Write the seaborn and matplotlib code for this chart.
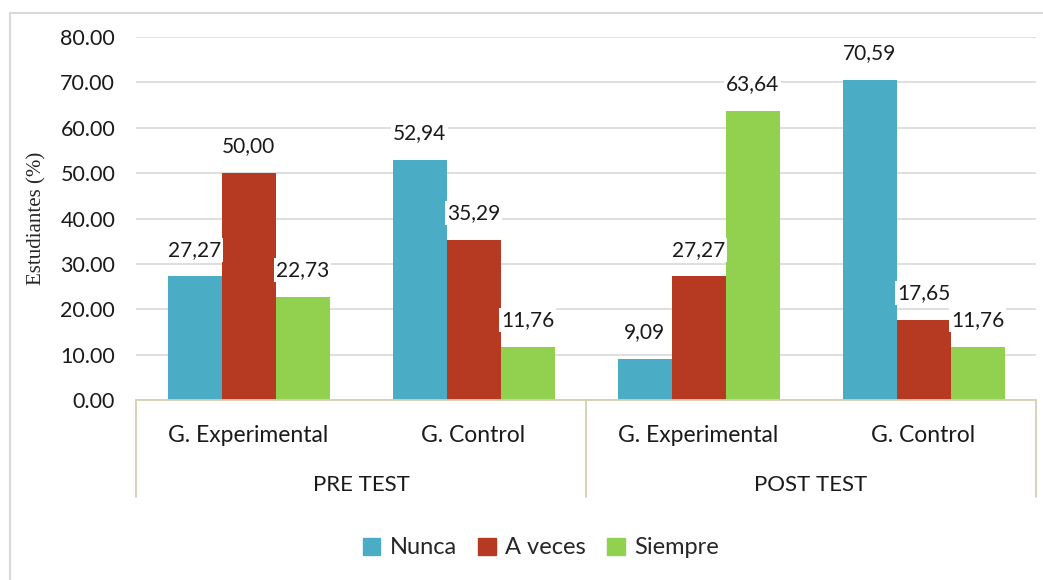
import pandas as pd
import matplotlib.pyplot as plt
import matplotlib.transforms as mtransforms
from matplotlib.patches import Rectangle
import seaborn as sns

# Data
grupos = ['G. Experimental', 'G. Control', 'G. Experimental ', 'G. Control ']
etapas = ['PRE TEST', 'POST TEST']
nunca = [27.27, 52.94, 9.09, 70.59]
a_veces = [50.00, 35.29, 27.27, 17.65]
siempre = [22.73, 11.76, 63.64, 11.76]
series = ['Nunca', 'A veces', 'Siempre']
colores = ['#4BACC6', '#B63A22', '#92D050']

df = pd.DataFrame({'Grupo': grupos * 3,
                   'Respuesta': [s for s in series for _ in grupos],
                   'Valor': nunca + a_veces + siempre})

sns.set_style('white')
plt.rcParams['font.family'] = ['Lato', 'DejaVu Sans']

fig = plt.figure(figsize=(10.43, 5.80), dpi=100)
ax = fig.add_axes([0.1304, 0.3103, 0.8629, 0.6259])

sns.barplot(data=df, x='Grupo', y='Valor', hue='Respuesta', palette=colores,
            width=0.72, ax=ax, legend=False, saturation=1, edgecolor='none')

# Data labels with white background
for cont in ax.containers:
    ax.bar_label(cont, labels=[f'{v:.2f}'.replace('.', ',') for v in cont.datavalues],
                 padding=12, fontsize=15, color='#1a1a1a',
                 bbox=dict(facecolor='white', edgecolor='none', pad=1.5))

ax.set_ylim(0, 80)
ax.set_xlim(-0.5, 3.5)
ax.set_yticks(range(0, 81, 10))
ax.set_yticklabels([f'{v:.2f}' for v in range(0, 81, 10)], fontsize=15.5, color='#1a1a1a')
ax.tick_params(axis='y', length=0, pad=15)
ax.set_xticks([])
ax.set_xlabel('')
ax.set_ylabel('Estudiantes (%)', fontsize=15, family='Liberation Serif', labelpad=10)
ax.yaxis.grid(True, color='#D9D9D9', linewidth=1.2)
ax.set_axisbelow(True)
for s in ax.spines.values():
    s.set_visible(False)

# Multi-level category axis
linea = '#D5CFB4'
trans = mtransforms.blended_transform_factory(ax.transData, ax.transAxes)
ax.plot([-0.5, 3.5], [0, 0], transform=trans, color=linea, lw=1.3, clip_on=False)
for xv in [-0.5, 1.5, 3.5]:
    ax.plot([xv, xv], [0, -0.268], transform=trans, color=linea, lw=1.3, clip_on=False)
for i, g in enumerate(grupos):
    ax.text(i, -0.097, g.strip(), transform=trans, ha='center', va='center',
            fontsize=16.5, color='#1a1a1a')
for i, e in enumerate(etapas):
    ax.text(2 * i + 0.5, -0.235, e, transform=trans, ha='center', va='center',
            fontsize=16, color='#1a1a1a')

# Legend
handles = [Rectangle((0, 0), 1, 1, color=c) for c in colores]
fig.legend(handles, series, loc='center', bbox_to_anchor=(541 / 1043, 1 - 548 / 580),
           ncol=3, frameon=False, fontsize=17, handlelength=0.75, handleheight=0.75,
           handletextpad=0.4, columnspacing=0.9)

# Outer chart border
fig.patches.append(Rectangle((10 / 1043, -0.01), 1.0, 1 - 13 / 580 + 0.01,
                             transform=fig.transFigure, fill=False,
                             edgecolor='#D9D9D9', lw=1.5))

fig.savefig('out.png', dpi=100)
